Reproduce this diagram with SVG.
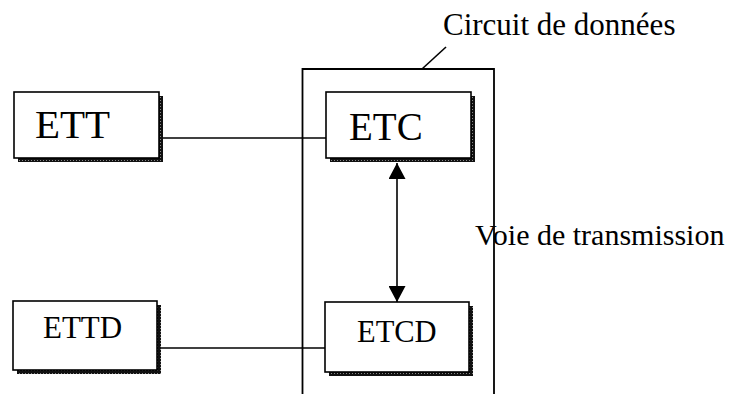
<svg xmlns="http://www.w3.org/2000/svg" width="732" height="394" viewBox="0 0 732 394">
<style>
.box{fill:#fff;stroke:#000;stroke-width:1.6}
.shadow{fill:url(#hatch)}
.lbl{font-family:"Liberation Serif","Times New Roman",serif;fill:#000}
.wire{stroke:#000;stroke-width:1.3;fill:none}
</style>
<defs>
<pattern id="hatch" width="3" height="3" patternUnits="userSpaceOnUse">
<rect width="3" height="3" fill="#111"/>
<rect x="1" y="1" width="1" height="1" fill="#888"/>
</pattern>
<marker id="ah" viewBox="0 0 16 17" refX="16" refY="8.5" markerWidth="16" markerHeight="17" markerUnits="userSpaceOnUse" orient="auto-start-reverse">
<path d="M0,0 L16,8.5 L0,17 Z" fill="#000"/>
</marker>
</defs>
<rect width="732" height="394" fill="#fff"/>
<g id="circuit">
<path d="M302.5,394 V69 H494 V394" fill="none" stroke="#000" stroke-width="1.8"/>
<line x1="422" y1="69" x2="446" y2="47" stroke="#000" stroke-width="1.6"/>
<text class="lbl" x="443" y="35" font-size="31">Circuit de données</text>
</g>
<g id="connectors">
<line class="wire" x1="159" y1="138" x2="326" y2="138"/>
<line class="wire" x1="157" y1="348" x2="325" y2="348"/>
<line x1="397" y1="163" x2="397" y2="302" stroke="#000" stroke-width="1.6" marker-start="url(#ah)" marker-end="url(#ah)"/>
</g>
<g id="ETT">
<rect class="shadow" x="18" y="96" width="145" height="66"/>
<rect class="box" x="14" y="92" width="145" height="66"/>
<text class="lbl" x="35" y="138" font-size="41">ETT</text>
</g>
<g id="ETC">
<rect class="shadow" x="330" y="96" width="145" height="66"/>
<rect class="box" x="326" y="92" width="145" height="66"/>
<text class="lbl" x="349" y="140" font-size="39">ETC</text>
</g>
<g id="ETTD">
<rect class="shadow" x="17" y="305" width="144" height="69"/>
<rect class="box" x="13" y="301" width="144" height="69"/>
<text class="lbl" x="43" y="338" font-size="31">ETTD</text>
</g>
<g id="ETCD">
<rect class="shadow" x="329" y="306" width="144" height="70"/>
<rect class="box" x="325" y="302" width="144" height="70"/>
<text class="lbl" x="357" y="342" font-size="30.5">ETCD</text>
</g>
<g id="voie">
<text class="lbl" x="475" y="245" font-size="30">Voie de transmission</text>
</g>
</svg>
